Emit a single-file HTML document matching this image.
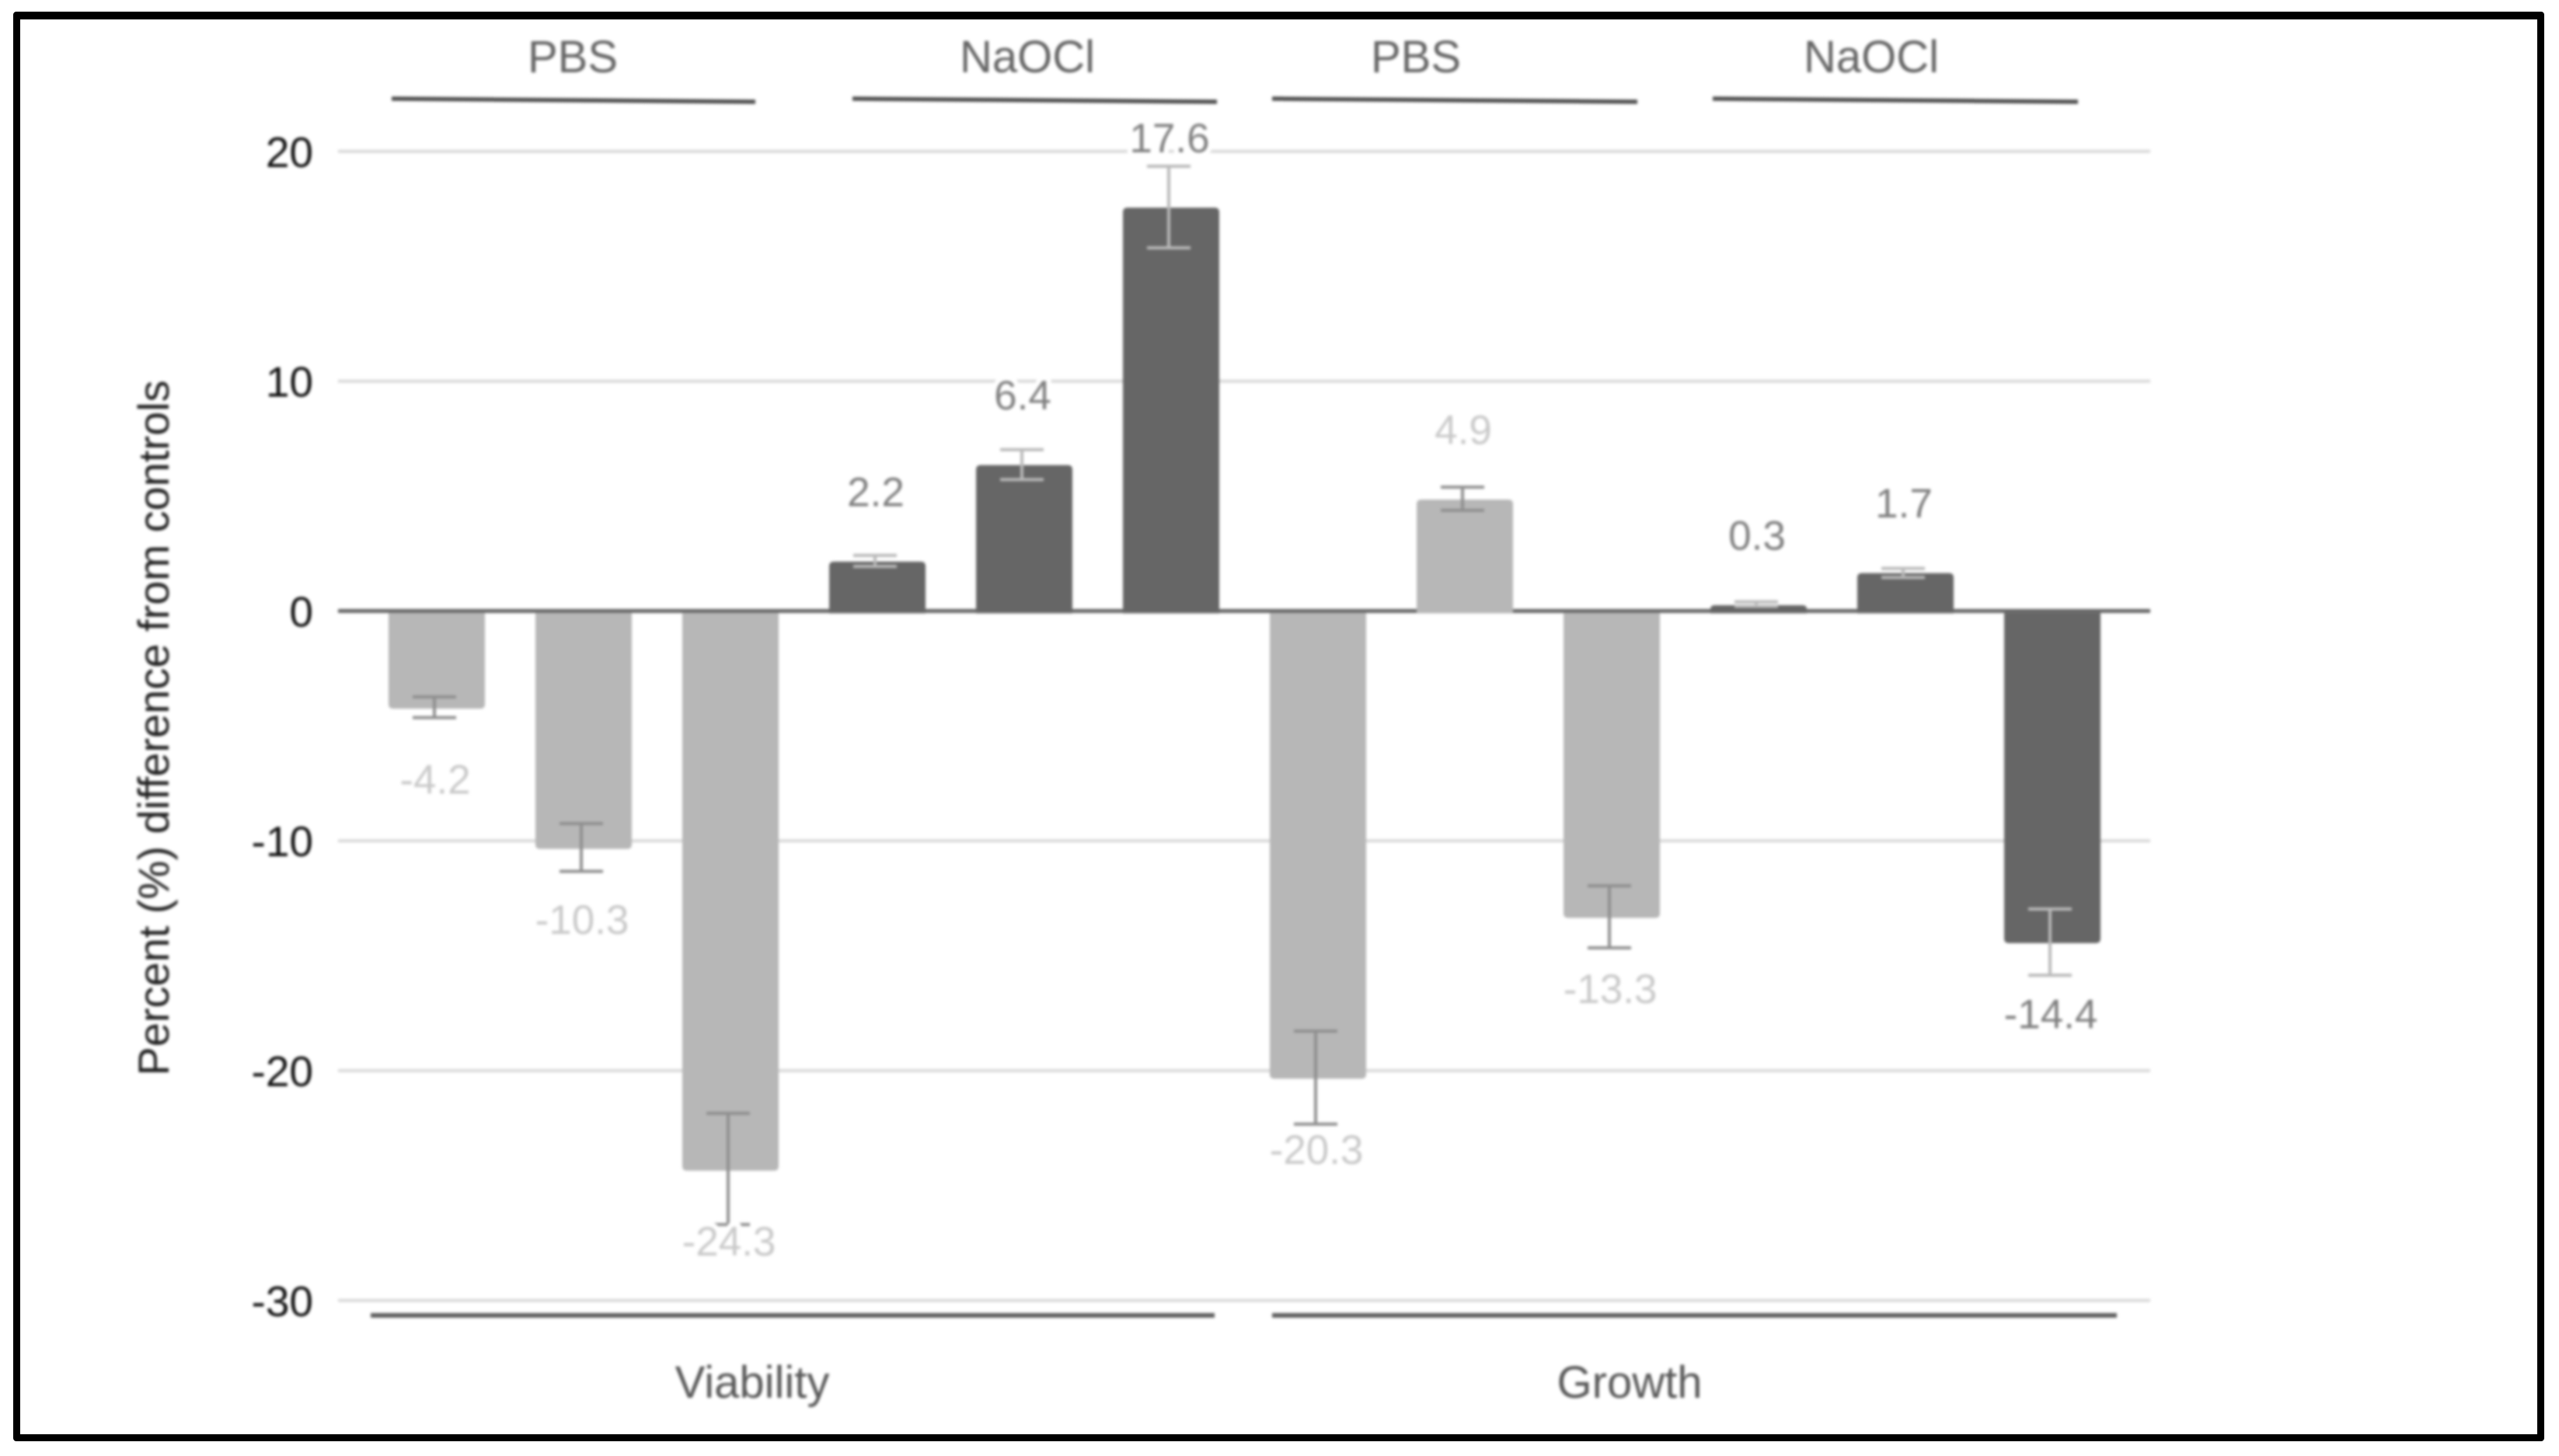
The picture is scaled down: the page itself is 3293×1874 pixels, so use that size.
<!DOCTYPE html>
<html lang="en">
<head>
<meta charset="utf-8">
<title>Percent difference from controls</title>
<style>
  html, body { margin: 0; padding: 0; background: #ffffff; }
  body { width: 3293px; height: 1874px; overflow: hidden; position: relative; }
  #chart { position: absolute; left: 0; top: 0; display: block; font-family: "Liberation Sans", sans-serif; }
  #frame-box { position: absolute; left: 17px; top: 15px; width: 3239px; height: 1821px; border: 9px solid #000; border-top-width: 10px; border-radius: 4px; background: transparent; pointer-events: none; }
</style>
</head>
<body>
<svg id="chart" width="3293" height="1874" viewBox="0 0 3293 1874" xmlns="http://www.w3.org/2000/svg" style="filter:blur(1.8px)"></svg>
<div id="frame-box"></div>
<script>
const categories = ['viability-pbs-1','viability-pbs-2','viability-pbs-3','viability-naocl-1','viability-naocl-2','viability-naocl-3','growth-pbs-1','growth-pbs-2','growth-pbs-3','growth-naocl-1','growth-naocl-2','growth-naocl-3'];
const barValues = [-4.2, -10.3, -24.3, 2.2, 6.4, 17.6, -20.3, 4.9, -13.3, 0.3, 1.7, -14.4];
const errorHigh = [-3.74, -9.25, -21.86, 2.42, 7.02, 19.35, -18.28, 5.39, -11.96, 0.4, 1.85, -12.97];
const errorLow = [-4.64, -11.33, -26.7, 1.94, 5.72, 15.8, -22.33, 4.38, -14.66, 0.2, 1.46, -15.85];
const barLabels = ['-4.2','-10.3','-24.3','2.2','6.4','17.6','-20.3','4.9','-13.3','0.3','1.7','-14.4'];
const seriesTone = ['light','light','light','dark','dark','dark','light','light','light','dark','dark','dark'];
const yTicks = [20, 10, 0, -10, -20, -30];
const yTickLabels = ['20','10','0','-10','-20','-30'];
const treatmentLabels = ['PBS','NaOCl','PBS','NaOCl'];
const measureLabels = ['Viability','Growth'];

const SVG_NS = 'http://www.w3.org/2000/svg';
const svg = document.getElementById('chart');
const yScale = v => 786.4 - 29.58 * v;
const xScale = i => 562 + 189 * i;
const BAR_W = 124;
const GRID_L = 435, GRID_R = 2767;
const toneFill = { light: '#b7b7b7', dark: '#666666' };
const toneText = { light: '#c9c9c9', dark: '#808080' };
const toneErr = { light: '#8f8f8f', dark: '#b9b9b9' };

function make(tag, attrs, text) {
  const el = document.createElementNS(SVG_NS, tag);
  for (const k in attrs) el.setAttribute(k, attrs[k]);
  if (text !== undefined) el.textContent = text;
  svg.appendChild(el);
  return el;
}

// gridlines and y tick labels
yTicks.forEach((t, i) => {
  if (t !== 0) {
    const g = make('line', { x1: GRID_L, x2: GRID_R, y1: yScale(t), y2: yScale(t), stroke: '#d9d9d9', 'stroke-width': 4 });
    
    
  }
  const lab = make('text', { x: 403, y: yScale(t) + 20, 'text-anchor': 'end', 'font-size': 55, fill: '#111111' }, yTickLabels[i]);
  
  
});

// zero axis
const zeroAxis = make('line', { x1: GRID_L, x2: GRID_R, y1: yScale(0), y2: yScale(0), stroke: '#666666', 'stroke-width': 5 });



// bars
barValues.forEach((v, i) => {
  const cx = xScale(i), L = cx - BAR_W / 2, R = cx + BAR_W / 2, y = yScale(v) + 1.5, r = 6;
  let d;
  if (v >= 0) {
    const base = yScale(0) + 3;
    const tip = Math.min(y, base - 5);
    const rr = Math.min(r, (base - tip) / 2);
    d = `M${L} ${base}V${tip + rr}Q${L} ${tip} ${L + rr} ${tip}H${R - rr}Q${R} ${tip} ${R} ${tip + rr}V${base}Z`;
  } else {
    const base = yScale(0) + 2.5;
    d = `M${L} ${base}V${y - r}Q${L} ${y} ${L + r} ${y}H${R - r}Q${R} ${y} ${R} ${y - r}V${base}Z`;
  }
  const bar = make('path', { d: d, fill: toneFill[seriesTone[i]] });
  
  
});

// error bars
barValues.forEach((v, i) => {
  const cx = xScale(i) - 3, hi = yScale(errorHigh[i]), lo = yScale(errorLow[i]), col = toneErr[seriesTone[i]];
  const stem = make('line', { x1: cx, x2: cx, y1: hi, y2: lo, stroke: col, 'stroke-width': 4 });
  
  
  const capTop = make('line', { x1: cx - 28, x2: cx + 28, y1: hi, y2: hi, stroke: col, 'stroke-width': 4 });
  
  
  const capBottom = make('line', { x1: cx - 28, x2: cx + 28, y1: lo, y2: lo, stroke: col, 'stroke-width': 4 });
  
  
});

// printed values
barValues.forEach((v, i) => {
  const y = v >= 0 ? yScale(v) - 70 : yScale(v) + 111;
  const t = make('text', { x: xScale(i) - 2, y: y, 'text-anchor': 'middle', 'font-size': 53, fill: toneText[seriesTone[i]], stroke: '#ffffff', 'stroke-width': 13, 'paint-order': 'stroke', 'stroke-linejoin': 'round' }, barLabels[i]);
  
  
});
</script>
<script>
// annotation layer: axis title, treatment brackets and measure brackets
(function () {
  const title = make('text', { transform: 'translate(217 937) rotate(-90)', 'text-anchor': 'middle', 'font-size': 56, fill: '#222222' }, 'Percent (%) difference from controls');
  
  

  const treatmentCenters = [737, 1322, 1822, 2408];
  const treatmentStarts = [504, 1097, 1637, 2204];
  const treatmentEnds = [972, 1566, 2107, 2674];
  treatmentLabels.forEach((s, i) => {
    const t = make('text', { x: treatmentCenters[i], y: 93, 'text-anchor': 'middle', 'font-size': 58, fill: '#666666' }, s);
    
    
    const l = make('line', { x1: treatmentStarts[i], x2: treatmentEnds[i], y1: 127, y2: 131, stroke: '#505050', 'stroke-width': 5.5 });
    
    
  });

  const measureCenters = [968, 2097];
  const measureStarts = [477, 1637];
  const measureEnds = [1563, 2724];
  measureLabels.forEach((s, i) => {
    const t = make('text', { x: measureCenters[i], y: 1799, 'text-anchor': 'middle', 'font-size': 58, fill: '#595959' }, s);
    
    
    const l = make('line', { x1: measureStarts[i], x2: measureEnds[i], y1: 1693, y2: 1693, stroke: '#606060', 'stroke-width': 6 });
    
    
  });
})();
</script>
</body>
</html>
